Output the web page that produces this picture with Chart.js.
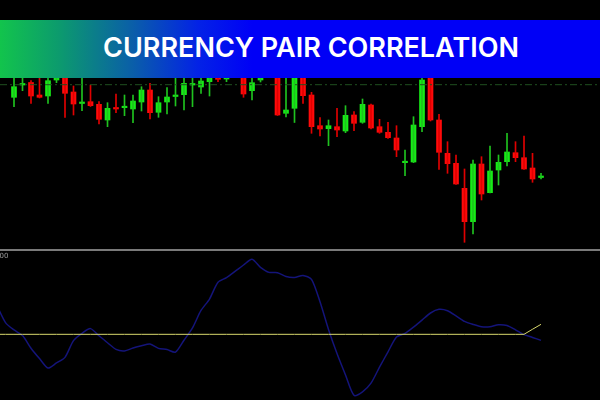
<!DOCTYPE html>
<html>
<head>
<meta charset="utf-8">
<script src="https://cdn.jsdelivr.net/npm/chart.js@4.4.1/dist/chart.umd.min.js"></script>
<style>
    html, body { margin: 0; padding: 0; background: #000; }
    #wrap { position: relative; width: 600px; height: 400px; overflow: hidden; background: #000; }
    #price { position: absolute; left: 0; top: 0; }
    #corr { position: absolute; left: 0; top: 252px; }
    #sep { position: absolute; left: 0; top: 249px; width: 600px; height: 2px; background: #7a7a7a; }
    #maxLabel { position: absolute; left: -5px; top: 252px; font: 7px "DejaVu Sans", sans-serif; color: #9a9a9a; }
    #banner {
        position: absolute; left: 0; top: 20px; width: 600px; height: 58px;
        background: linear-gradient(90deg, #12c44c 0%, #0c9a6e 10%, #0a5fa8 22%, #0322e6 33%, #0000f6 42%, #0000f6 100%);
    }
    #banner span {
        position: absolute; left: 0; width: 622px; top: 0; line-height: 56px; text-align: center;
        font-family: Inter, "Open Sans", sans-serif; font-weight: 600; font-size: 27px; color: #fff;
    }
</style>
</head>
<body>
<div id="wrap">
    <canvas id="price" width="600" height="250"></canvas>
    <div id="sep"></div>
    <canvas id="corr" width="600" height="148"></canvas>
    <div id="maxLabel">100</div>
    <div id="banner"><span>CURRENCY PAIR CORRELATION</span></div>
</div>
<script>
// candle index 0..62, price in chart points
const openPrice = [152.7, 165, 167.5, 155, 154, 170, 178, 158, 146.5, 148.3,
    145.7, 130, 142, 142.3, 141, 148, 160, 137.7, 148, 153.5,
    155.3, 165, 163, 168.3, 176, 171, 176, 176, 159.3, 170,
    184, 180, 136.7, 141.7, 178, 155, 124.3, 121.3, 123.3, 119,
    135, 127.7, 145, 123.3, 117.7, 112, 87.3, 88, 123.3, 178,
    130, 96.7, 86.7, 61.7, 28.3, 86, 57.3, 80, 88.3, 97.3,
    92.3, 82, 72.5];
const highPrice = [176, 176, 169.3, 178, 176, 182, 182, 164, 176, 165,
    148.3, 147.3, 156, 155, 155, 163.3, 166.7, 153.3, 162.3, 176,
    176, 176, 175, 180, 180, 182, 188, 180, 176, 182,
    188, 184, 176, 180, 182, 157.7, 132.3, 130, 141.7, 144.3,
    138.3, 151, 146, 130.7, 127.7, 124.3, 100, 133.3, 174, 182,
    135.7, 108.3, 95, 81, 90, 93.3, 104, 95, 116.7, 108.3,
    114, 96.7, 76.7];
const lowPrice = [143.3, 159.3, 146.7, 152, 146.7, 167.3, 132.7, 135, 139.3, 143.5,
    126, 123.3, 137.3, 134.3, 127.3, 139, 131, 132.7, 136, 144,
    140, 143.3, 156.7, 154, 168.3, 168.3, 174, 152.7, 150, 168,
    174, 134.5, 133, 127.5, 146.7, 116.7, 114, 104.3, 113.3, 117.3,
    119.3, 126.7, 121, 116.7, 111.5, 93.3, 74.3, 87.3, 118.3, 129,
    80.7, 76.7, 65.5, 7.7, 16, 50, 57, 65, 84, 88.3,
    80.5, 67.7, 71];
const closePrice = [163.3, 166, 154, 152.7, 169.3, 178, 156.7, 146, 148, 144.3,
    130.7, 141.7, 141, 143, 149, 160, 137.3, 147.3, 153, 154.5,
    166.7, 166, 169, 176, 170.7, 178, 184, 156, 167.3, 178,
    176, 135, 140, 176, 154.3, 123.3, 121, 124.3, 120, 134.7,
    126.7, 145.7, 122, 117.7, 112.3, 100, 88.3, 125, 170, 130,
    97.7, 86.3, 66, 28.3, 86, 56, 79, 87.7, 98, 92.3,
    81, 71, 73.5];
const levelPrice = 165.3;

// indicator window, starts two bars before the first visible candle (index -2)
const corrStart = -2;
const correlation = [36, 14.8, 5.5, -1.5, -17.5, -30.6, -42.5, -36.1, -29, -7.9,
    1.3, 7.2, -1.8, -10.6, -19, -20.9, -17.3, -14.4, -12.2, -17.7,
    -19.2, -22.4, -7.4, 8.1, 30.1, 44.5, 65.6, 71.5, 79.3, 87.4,
    94.7, 84.5, 78.1, 77.7, 73, 71.8, 74.3, 69.4, 41.1, 6.2,
    -24.2, -51.2, -76.9, -72.5, -61.5, -41.4, -22.1, -3.4, 1.1, 9.1,
    18, 26.9, 31.5, 29.8, 23.3, 16.3, 12.5, 9.6, 9.6, 12.1,
    11.1, 5.7, -0.4, -3.9, -7.6];
const signal = [0, 0, 0, 0, 0, 0, 0, 0, 0, 0,
    0, 0, 0, 0, 0, 0, 0, 0, 0, 0,
    0, 0, 0, 0, 0, 0, 0, 0, 0, 0,
    0, 0, 0, 0, 0, 0, 0, 0, 0, 0,
    0, 0, 0, 0, 0, 0, 0, 0, 0, 0,
    0, 0, 0, 0, 0, 0, 0, 0, 0, 0,
    0, 0, 0, 6.4, 12.6];

const xMin = -1.647;
const xMax = 68.94;
const green = '#16ec16';
const red = '#ff0a0a';

const up = openPrice.map((o, i) => closePrice[i] >= o);
const bodyColors = up.map(u => (u ? green : red));
const wickColors = up.map(u => (u ? '#1fc21f' : '#e00000'));

new Chart(document.getElementById('price').getContext('2d'), {
    type: 'bar',
    data: {
        datasets: [
            {
                type: 'line',
                data: [{ x: xMin, y: levelPrice }, { x: xMax, y: levelPrice }],
                borderColor: '#1f4f1f',
                borderWidth: 1,
                borderDash: [7, 3, 2, 3],
                pointRadius: 0,
            },
            {
                data: lowPrice.map((l, i) => ({ x: i, y: [l, highPrice[i]] })),
                backgroundColor: wickColors,
                barThickness: 1,
                grouped: false,
            },
            {
                data: openPrice.map((o, i) => ({ x: i, y: [o, closePrice[i]] })),
                backgroundColor: bodyColors,
                barThickness: 5,
                minBarLength: 1.5,
                grouped: false,
            },
        ],
    },
    options: {
        responsive: false,
        animation: false,
        layout: { padding: 0 },
        plugins: { legend: { display: false }, tooltip: { enabled: false } },
        scales: {
            // bar charts offset the x axis by default, which would shift the candles
            x: { type: 'linear', min: xMin, max: xMax, offset: false, display: false },
            y: { min: 0, max: 250, display: false },
        },
    },
});

new Chart(document.getElementById('corr').getContext('2d'), {
    type: 'line',
    data: {
        datasets: [
            {
                data: signal.map((v, k) => ({ x: corrStart + k, y: v })),
                borderColor: '#d8d86c',
                borderWidth: 1,
                pointRadius: 0,
            },
            {
                data: correlation.map((v, k) => ({ x: corrStart + k, y: v })),
                borderColor: '#14147a',
                borderWidth: 1.5,
                pointRadius: 0,
                tension: 0.25,
            },
        ],
    },
    options: {
        responsive: false,
        animation: false,
        layout: { padding: 0 },
        plugins: { legend: { display: false }, tooltip: { enabled: false } },
        scales: {
            x: { type: 'linear', min: xMin, max: xMax, display: false },
            y: { min: -82.8, max: 103.8, display: false },
        },
    },
});
</script>
</body>
</html>
